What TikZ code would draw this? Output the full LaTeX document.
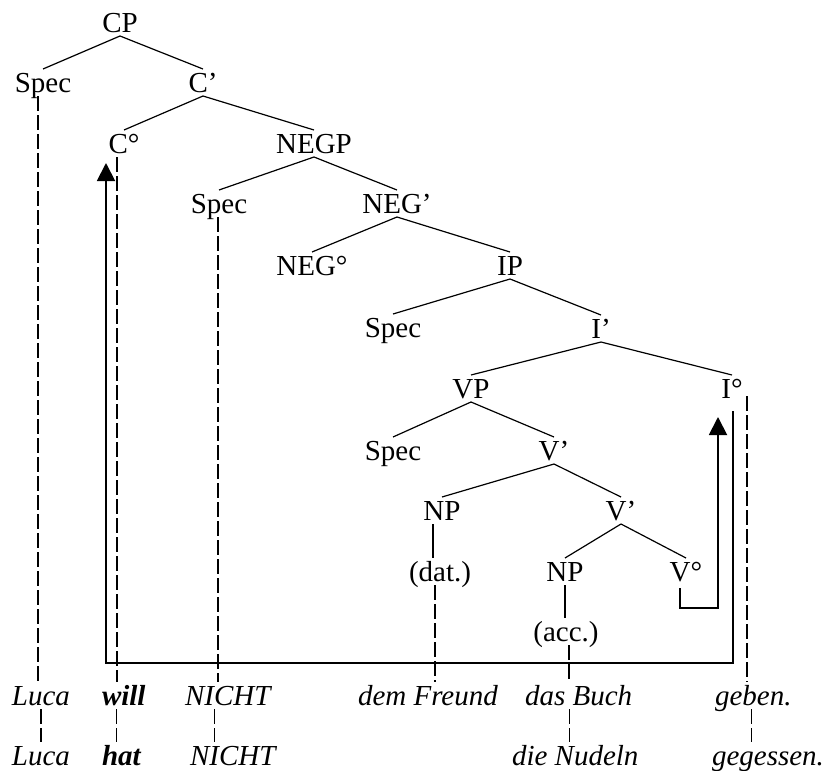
\documentclass[tikz,border=0pt]{standalone}
\usepackage{fontspec}
\setmainfont{Liberation Serif}
\usetikzlibrary{arrows.meta,calc}
\begin{document}
\begin{tikzpicture}[x=1pt,y=-1pt,
  lab/.style={anchor=base, inner sep=0pt, outer xsep=0pt, outer ysep=4pt, text height=19pt, text depth=0pt, font=\fontsize{29}{34}\selectfont},
  word/.style={lab, anchor=base west, font=\fontsize{29}{34}\selectfont\itshape},
  branch/.style={line width=1.2pt},
  trace/.style={line width=1.3pt, dash pattern=on 15pt off 4pt},
  move/.style={line width=1.9pt, -{Triangle[length=18pt,width=18pt]}}]
\useasboundingbox (0,0) rectangle (830,771);
% tree labels
\node[lab] (cp) at (120,32) {CP};
\node[lab] (spec1) at (43,92) {Spec};
\node[lab] (cbar) at (203,92) {C’};
\node[lab] (c0) at (124,153) {C°};
\node[lab] (negp) at (314,153) {NEGP};
\node[lab] (spec2) at (219,213) {Spec};
\node[lab] (negbar) at (397,213) {NEG’};
\node[lab] (neg0) at (312,275) {NEG°};
\node[lab] (ip) at (510,275) {IP};
\node[lab] (spec3) at (393,337) {Spec};
\node[lab] (ibar) at (601,338) {I’};
\node[lab] (vp) at (471,398) {VP};
\node[lab] (i0) at (732,398) {I°};
\node[lab] (spec4) at (393,460) {Spec};
\node[lab] (vbar1) at (554,460) {V’};
\node[lab] (np1) at (442,520) {NP};
\node[lab] (vbar2) at (621,520) {V’};
\node[lab] (dat) at (440,581) {(dat.)};
\node[lab] (np2) at (565,581) {NP};
\node[lab] (v0) at (686,581) {V°};
\node[lab] (acc) at (566,641) {(acc.)};
% words
\node[word] (luca1) at (12,705) {Luca};
\node[word] (will) at (102,705) {\bfseries will};
\node[word] (nicht1) at (185,705) {NICHT};
\node[word] (freund) at (358,705) {dem Freund};
\node[word] (buch) at (525,705) {das Buch};
\node[word] (geben) at (715,705) {geben.};
\node[word] (luca2) at (12,765) {Luca};
\node[word] (hat) at (102,765) {\bfseries hat};
\node[word] (nicht2) at (190,765) {NICHT};
\node[word] (nudeln) at (512,765) {die Nudeln};
\node[word] (gegessen) at (712,765) {gegessen.};
% branches
\draw[branch] (cp.south) -- (spec1.north);
\draw[branch] (cp.south) -- (cbar.north);
\draw[branch] (cbar.south) -- (c0.north);
\draw[branch] (cbar.south) -- (negp.north);
\draw[branch] (negp.south) -- (spec2.north);
\draw[branch] (negp.south) -- (negbar.north);
\draw[branch] (negbar.south) -- (neg0.north);
\draw[branch] (negbar.south) -- (ip.north);
\draw[branch] (ip.south) -- (spec3.north);
\draw[branch] (ip.south) -- (ibar.north);
\draw[branch] (ibar.south) -- (vp.north);
\draw[branch] (ibar.south) -- (i0.north);
\draw[branch] (vp.south) -- (spec4.north);
\draw[branch] (vp.south) -- (vbar1.north);
\draw[branch] (vbar1.south) -- (np1.north);
\draw[branch] (vbar1.south) -- (vbar2.north);
\draw[branch] (vbar2.south) -- (np2.north);
\draw[branch] (vbar2.south) -- (v0.north);
\draw[branch] ($(np1.south)+(-9,0)$) -- ($(np1.south |- dat.north)+(-9,0)$);
\draw[branch] (np2.south) -- (np2.south |- acc.north);
% traces
\draw[trace] ($(spec1.south)+(-5,0)$) -- ($(spec1.south |- luca1.north)+(-5,0)$);
\draw[trace] ($(c0.south)+(-7,0)$) -- ($(c0.south |- will.north)+(-7,0)$);
\draw[trace] ($(spec2.south)+(-1,0)$) -- ($(spec2.south |- nicht1.north)+(-1,0)$);
\draw[trace] ($(dat.south)+(-5,0)$) -- ($(dat.south |- freund.north)+(-5,0)$);
\draw[trace] ($(acc.south)+(3,0)$) -- ($(acc.south |- buch.north)+(3,0)$);
\draw[trace] ($(i0.south)+(15,-6)$) -- ($(i0.south |- geben.north)+(15,0)$);
\draw[trace] (luca1.south) -- (luca1.south |- luca2.north);
\draw[trace] ($(will.south)+(-7,0)$) -- ($(will.south |- hat.north)+(-7,0)$);
\draw[trace] ($(nicht1.south)+(-13,0)$) -- ($(nicht1.south |- nicht2.north)+(-13,0)$);
\draw[trace] ($(buch.south)+(-9,0)$) -- ($(buch.south |- nudeln.north)+(-9,0)$);
\draw[trace] ($(geben.south)+(-2,0)$) -- ($(geben.south |- gegessen.north)+(-2,0)$);
% movement arrows
\coordinate (bigR) at (733,663);
\coordinate (bigL) at (106,663);
\coordinate (ctip) at (106,163);
\draw[move] ($(i0.south)+(1,9)$) -- (bigR) -- (bigL) -- (ctip);
\coordinate (vturn) at (718,608);
\coordinate (vtip) at (718,417);
\draw[move] ($(v0.south)+(-6,3)$) |- (vturn) -- (vtip);
\end{tikzpicture}
\end{document}
